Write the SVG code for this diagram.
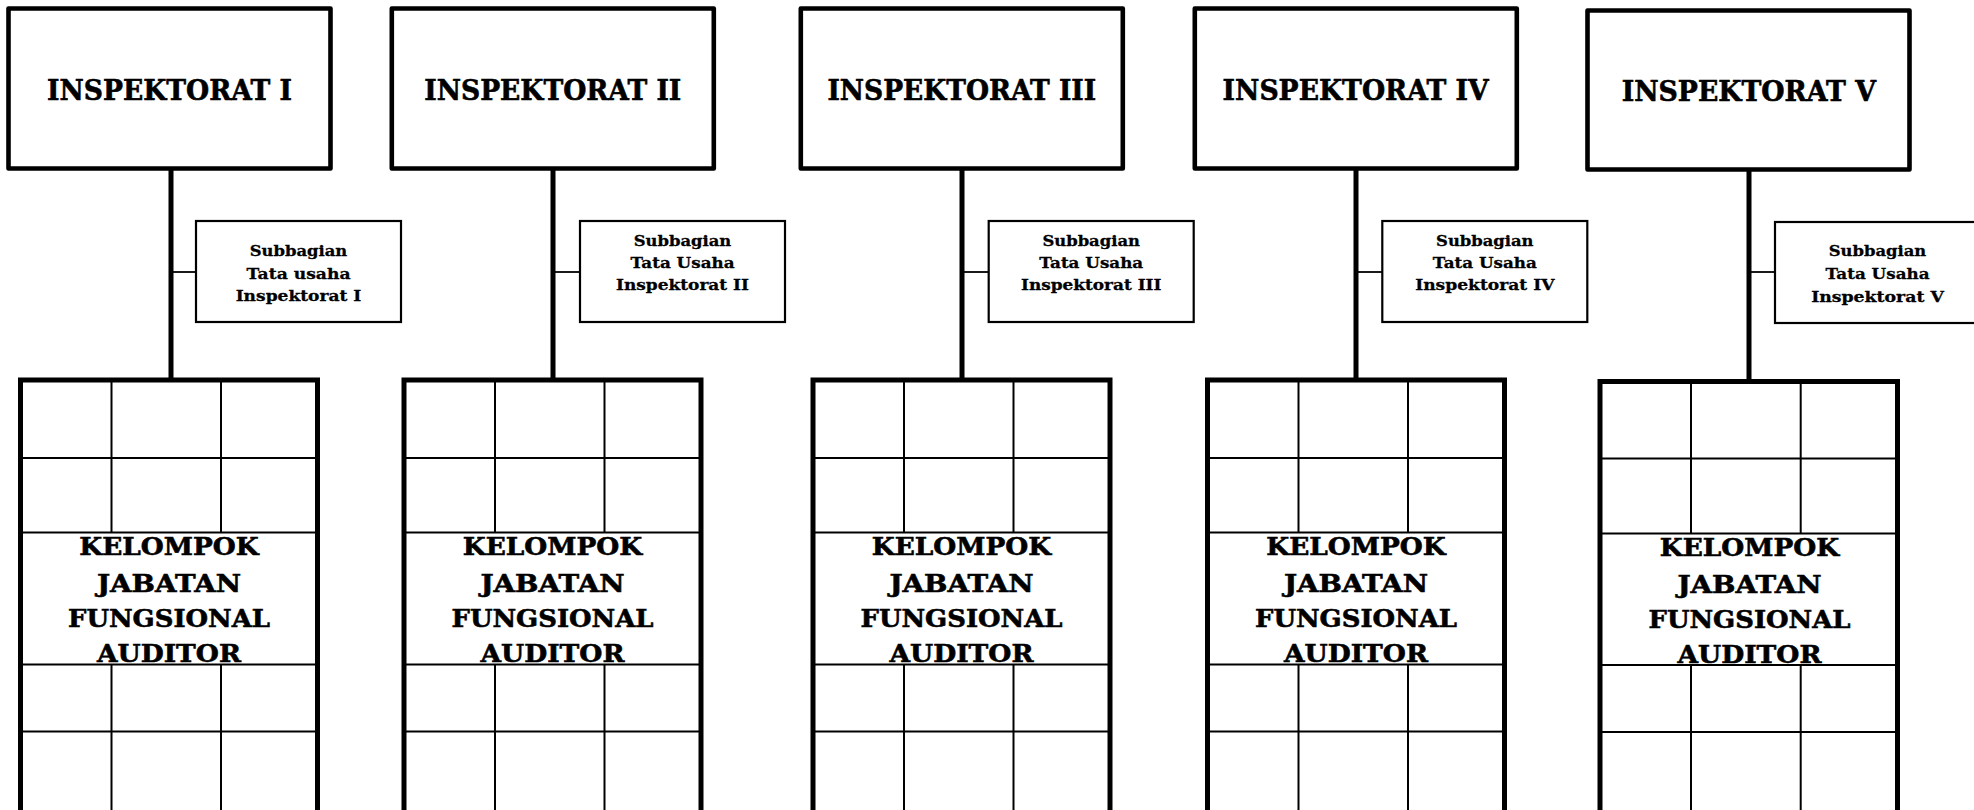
<svg xmlns="http://www.w3.org/2000/svg" width="1974" height="810" viewBox="0 0 1974 810">
<style>
.head{fill:#fff;stroke:#000;stroke-width:4.6;stroke-linejoin:round}
.sub{fill:#fff;stroke:#000;stroke-width:2.2}
.grid{fill:#fff;stroke:#000;stroke-width:5}
.in{stroke:#000;stroke-width:2;fill:none}
.vc{stroke:#000;stroke-width:5;fill:none}
.tk{stroke:#000;stroke-width:1.8;fill:none}
text{font-family:"DejaVu Serif","Liberation Serif",serif;font-weight:bold;fill:#000;stroke:#000;text-anchor:middle}
.t1{font-size:27px;stroke-width:0.6}
.t2{font-size:15.5px;stroke-width:0.3}
.t3{font-size:25px;stroke-width:0.6}
</style>
<rect x="0" y="0" width="1974" height="810" fill="#fff"/>
<g id="connectors">
<line class="vc" x1="171" y1="168" x2="171" y2="380"/>
<line class="tk" x1="171" y1="272" x2="196" y2="272"/>
<line class="vc" x1="553" y1="168" x2="553" y2="380"/>
<line class="tk" x1="553" y1="272" x2="580" y2="272"/>
<line class="vc" x1="962" y1="168" x2="962" y2="380"/>
<line class="tk" x1="962" y1="272" x2="988.7" y2="272"/>
<line class="vc" x1="1356" y1="168" x2="1356" y2="380"/>
<line class="tk" x1="1356" y1="272" x2="1382.3" y2="272"/>
<line class="vc" x1="1749" y1="169" x2="1749" y2="381"/>
<line class="tk" x1="1749" y1="272" x2="1775" y2="272"/>
</g>
<g id="inspektorat-1">
<rect class="head" x="8.5" y="8.5" width="322" height="160"/>
<text class="t1" x="169.5" y="100" textLength="245" lengthAdjust="spacingAndGlyphs">INSPEKTORAT I</text>
</g>
<g id="inspektorat-2">
<rect class="head" x="391.8" y="8.5" width="322" height="160"/>
<text class="t1" x="552.8" y="100" textLength="257" lengthAdjust="spacingAndGlyphs">INSPEKTORAT II</text>
</g>
<g id="inspektorat-3">
<rect class="head" x="800.8" y="8.5" width="322" height="160"/>
<text class="t1" x="961.8" y="100" textLength="268.7" lengthAdjust="spacingAndGlyphs">INSPEKTORAT III</text>
</g>
<g id="inspektorat-4">
<rect class="head" x="1194.8" y="8.5" width="322" height="160"/>
<text class="t1" x="1355.6" y="100" textLength="266" lengthAdjust="spacingAndGlyphs">INSPEKTORAT IV</text>
</g>
<g id="inspektorat-5">
<rect class="head" x="1587.5" y="10.5" width="322" height="159"/>
<text class="t1" x="1748.8" y="100.5" textLength="254.3" lengthAdjust="spacingAndGlyphs">INSPEKTORAT V</text>
</g>
<g id="subbagian-1">
<rect class="sub" x="196" y="221" width="205" height="101"/>
<text class="t2" x="298.5" y="256" textLength="97.5" lengthAdjust="spacingAndGlyphs">Subbagian</text>
<text class="t2" x="298.5" y="278.5" textLength="104" lengthAdjust="spacingAndGlyphs">Tata usaha</text>
<text class="t2" x="298.5" y="301" textLength="125.7" lengthAdjust="spacingAndGlyphs">Inspektorat I</text>
</g>
<g id="subbagian-2">
<rect class="sub" x="580" y="221" width="205" height="101"/>
<text class="t2" x="682.5" y="245.5" textLength="97.5" lengthAdjust="spacingAndGlyphs">Subbagian</text>
<text class="t2" x="682.5" y="267.5" textLength="104" lengthAdjust="spacingAndGlyphs">Tata Usaha</text>
<text class="t2" x="682.5" y="290" textLength="133" lengthAdjust="spacingAndGlyphs">Inspektorat II</text>
</g>
<g id="subbagian-3">
<rect class="sub" x="988.7" y="221" width="205" height="101"/>
<text class="t2" x="1091.2" y="245.5" textLength="97.5" lengthAdjust="spacingAndGlyphs">Subbagian</text>
<text class="t2" x="1091.2" y="267.5" textLength="104" lengthAdjust="spacingAndGlyphs">Tata Usaha</text>
<text class="t2" x="1091.2" y="290" textLength="140.3" lengthAdjust="spacingAndGlyphs">Inspektorat III</text>
</g>
<g id="subbagian-4">
<rect class="sub" x="1382.3" y="221" width="205" height="101"/>
<text class="t2" x="1484.8" y="245.5" textLength="97.5" lengthAdjust="spacingAndGlyphs">Subbagian</text>
<text class="t2" x="1484.8" y="267.5" textLength="104" lengthAdjust="spacingAndGlyphs">Tata Usaha</text>
<text class="t2" x="1484.8" y="290" textLength="139.3" lengthAdjust="spacingAndGlyphs">Inspektorat IV</text>
</g>
<g id="subbagian-5">
<rect class="sub" x="1775" y="222" width="205" height="101"/>
<text class="t2" x="1877.5" y="256" textLength="97.5" lengthAdjust="spacingAndGlyphs">Subbagian</text>
<text class="t2" x="1877.5" y="279" textLength="104" lengthAdjust="spacingAndGlyphs">Tata Usaha</text>
<text class="t2" x="1877.5" y="301.5" textLength="132.7" lengthAdjust="spacingAndGlyphs">Inspektorat V</text>
</g>
<g id="kelompok-1">
<rect class="grid" x="20.5" y="380" width="297" height="440"/>
<path class="in" d="M20.5 458H317.5M20.5 532.5H317.5M20.5 664.5H317.5M20.5 731.5H317.5M111.5 380V532.5M221 380V532.5M111.5 664.5V815M221 664.5V815"/>
<text class="t3" x="169" y="555" textLength="179.5" lengthAdjust="spacingAndGlyphs">KELOMPOK</text>
<text class="t3" x="169" y="591.5" textLength="144" lengthAdjust="spacingAndGlyphs">JABATAN</text>
<text class="t3" x="169" y="626.5" textLength="202" lengthAdjust="spacingAndGlyphs">FUNGSIONAL</text>
<text class="t3" x="169" y="661.5" textLength="144" lengthAdjust="spacingAndGlyphs">AUDITOR</text>
</g>
<g id="kelompok-2">
<rect class="grid" x="404" y="380" width="297" height="440"/>
<path class="in" d="M404 458H701M404 532.5H701M404 664.5H701M404 731.5H701M495 380V532.5M604.5 380V532.5M495 664.5V815M604.5 664.5V815"/>
<text class="t3" x="552.5" y="555" textLength="179.5" lengthAdjust="spacingAndGlyphs">KELOMPOK</text>
<text class="t3" x="552.5" y="591.5" textLength="144" lengthAdjust="spacingAndGlyphs">JABATAN</text>
<text class="t3" x="552.5" y="626.5" textLength="202" lengthAdjust="spacingAndGlyphs">FUNGSIONAL</text>
<text class="t3" x="552.5" y="661.5" textLength="144" lengthAdjust="spacingAndGlyphs">AUDITOR</text>
</g>
<g id="kelompok-3">
<rect class="grid" x="813" y="380" width="297" height="440"/>
<path class="in" d="M813 458H1110M813 532.5H1110M813 664.5H1110M813 731.5H1110M904 380V532.5M1013.5 380V532.5M904 664.5V815M1013.5 664.5V815"/>
<text class="t3" x="961.5" y="555" textLength="179.5" lengthAdjust="spacingAndGlyphs">KELOMPOK</text>
<text class="t3" x="961.5" y="591.5" textLength="144" lengthAdjust="spacingAndGlyphs">JABATAN</text>
<text class="t3" x="961.5" y="626.5" textLength="202" lengthAdjust="spacingAndGlyphs">FUNGSIONAL</text>
<text class="t3" x="961.5" y="661.5" textLength="144" lengthAdjust="spacingAndGlyphs">AUDITOR</text>
</g>
<g id="kelompok-4">
<rect class="grid" x="1207.5" y="380" width="297" height="440"/>
<path class="in" d="M1207.5 458H1504.5M1207.5 532.5H1504.5M1207.5 664.5H1504.5M1207.5 731.5H1504.5M1298.5 380V532.5M1408 380V532.5M1298.5 664.5V815M1408 664.5V815"/>
<text class="t3" x="1356" y="555" textLength="179.5" lengthAdjust="spacingAndGlyphs">KELOMPOK</text>
<text class="t3" x="1356" y="591.5" textLength="144" lengthAdjust="spacingAndGlyphs">JABATAN</text>
<text class="t3" x="1356" y="626.5" textLength="202" lengthAdjust="spacingAndGlyphs">FUNGSIONAL</text>
<text class="t3" x="1356" y="661.5" textLength="144" lengthAdjust="spacingAndGlyphs">AUDITOR</text>
</g>
<g id="kelompok-5">
<rect class="grid" x="1600" y="381.5" width="297.5" height="440"/>
<path class="in" d="M1600 458.5H1897.5M1600 533.5H1897.5M1600 665H1897.5M1600 732H1897.5M1691 381.5V533.5M1800.7 381.5V533.5M1691 665V815M1800.7 665V815"/>
<text class="t3" x="1749.5" y="556" textLength="179.5" lengthAdjust="spacingAndGlyphs">KELOMPOK</text>
<text class="t3" x="1749.5" y="592.5" textLength="144" lengthAdjust="spacingAndGlyphs">JABATAN</text>
<text class="t3" x="1749.5" y="627.5" textLength="202" lengthAdjust="spacingAndGlyphs">FUNGSIONAL</text>
<text class="t3" x="1749.5" y="662.5" textLength="144" lengthAdjust="spacingAndGlyphs">AUDITOR</text>
</g>
</svg>
